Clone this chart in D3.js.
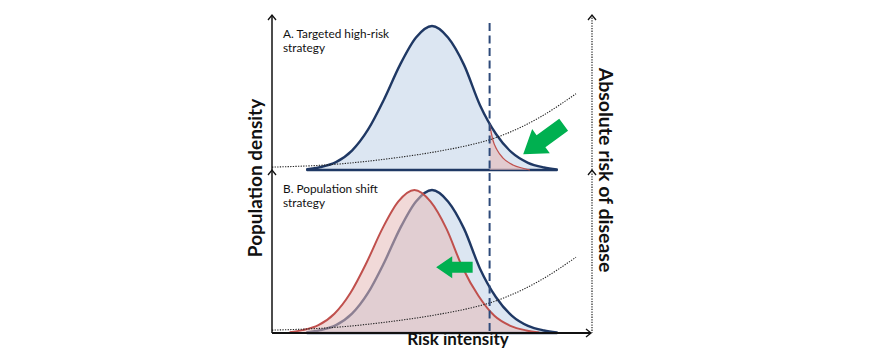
<!DOCTYPE html>
<html>
<head>
<meta charset="utf-8">
<script src="https://cdn.jsdelivr.net/npm/d3@7"></script>
<style>
  html, body { margin: 0; padding: 0; background: #fff; }
  svg { display: block; }
  text { font-family: Lato, "Open Sans", sans-serif; fill: #111; }
</style>
</head>
<body>
<svg id="chart" width="883" height="350"></svg>
<script>
// Risk intensity positions (0–100) and the population distribution before intervention
const popX      = [11, 15, 20, 25, 30, 35, 40, 45, 50, 55, 60, 65, 70, 75, 80, 85, 89];
const popBefore = [0.005, 0.02, 0.055, 0.135, 0.28, 0.49, 0.73, 0.92, 1.0, 0.92, 0.73, 0.45, 0.25, 0.12, 0.05, 0.018, 0.004];

// Panel A: high-risk tail after targeted treatment
const tailX = [68, 69, 70.3, 72.2, 75.3, 78.4, 80.6];
const tailY = [0.32, 0.21, 0.14, 0.083, 0.035, 0.012, 0];

// Panel B: whole distribution shifted to lower risk
const shiftX = [5.5, 9.5, 14.5, 19.5, 24.5, 29.5, 34.5, 39.5, 44.5, 49.5, 54.5, 59.5, 64.5, 69.5, 74.5, 79.5, 83.5];
const shiftY = [0.005, 0.02, 0.055, 0.135, 0.28, 0.49, 0.73, 0.92, 1.0, 0.92, 0.73, 0.46, 0.26, 0.12, 0.05, 0.018, 0.004];

// Absolute risk of disease by risk intensity
const riskX = [0, 20, 37, 52, 63, 68, 73, 84, 95];
const absRisk = [0.02, 0.04, 0.08, 0.13, 0.18, 0.21, 0.25, 0.37, 0.53];

// High-risk cut-off
const threshold = 68;

const panelLabels = [["A. Targeted high-risk", "strategy"], ["B. Population shift", "strategy"]];
const axisTitles = { left: "Population density", right: "Absolute risk of disease", bottom: "Risk intensity" };

const NAVY = "#1f3864", BLUE_FILL = "#dce6f2", RED = "#c0504d", RED_FILL = "#e6b9b8", GREEN = "#00b050";

const svg = d3.select("#chart");
const x = d3.scaleLinear().domain([0, 100]).range([272, 592]);
const yTop = d3.scaleLinear().domain([0, 1]).range([170, 26]);
const yBot = d3.scaleLinear().domain([0, 1]).range([333, 190]);

const zip = (xs, ys) => xs.map((v, i) => [v, ys[i]]);

function shapes(y) {
  const area = d3.area().x(d => x(d[0])).y0(y(0)).y1(d => y(d[1])).curve(d3.curveMonotoneX);
  const line = d3.line().x(d => x(d[0])).y(d => y(d[1])).curve(d3.curveMonotoneX);
  return { area, line };
}

function riskCurve(g, y) {
  g.append("path").datum(zip(riskX, absRisk))
    .attr("d", shapes(y).line)
    .attr("fill", "none").attr("stroke", "#222").attr("stroke-width", 1.1).attr("stroke-dasharray", "1.3,1.3");
}

// ---------- Panel A ----------
const gA = svg.append("g");
const A = shapes(yTop);
gA.append("path").datum(zip(popX, popBefore))
  .attr("d", A.area)
  .attr("fill", BLUE_FILL).attr("stroke", NAVY).attr("stroke-width", 2.4).attr("stroke-linejoin", "round");
gA.append("path").datum(zip(tailX, tailY))
  .attr("d", A.area).attr("fill", RED_FILL).attr("fill-opacity", 0.6);
gA.append("path").datum(zip(tailX, tailY))
  .attr("d", A.line).attr("fill", "none").attr("stroke", RED).attr("stroke-width", 1.2);
riskCurve(gA, yTop);

// ---------- Panel B ----------
const gB = svg.append("g");
const B = shapes(yBot);
gB.append("path").datum(zip(popX, popBefore))
  .attr("d", B.area)
  .attr("fill", BLUE_FILL).attr("stroke", NAVY).attr("stroke-width", 2.4).attr("stroke-linejoin", "round");
gB.append("path").datum(zip(shiftX, shiftY))
  .attr("d", B.area).attr("fill", RED_FILL).attr("fill-opacity", 0.55);
gB.append("path").datum(zip(shiftX, shiftY))
  .attr("d", B.line).attr("fill", "none").attr("stroke", RED).attr("stroke-width", 2);
riskCurve(gB, yBot);

// ---------- Threshold ----------
svg.append("line")
  .attr("x1", x(threshold)).attr("x2", x(threshold))
  .attr("y1", 23).attr("y2", yBot(0))
  .attr("stroke", "#2e4a7a").attr("stroke-width", 2).attr("stroke-dasharray", "8,4.5");

// ---------- Axes ----------
function chevron(px, py, dir) {
  // small open arrow head; dir: "up" or "right"
  const s = 4;
  const pts = dir === "up"
    ? [[px - s, py + s + 1], [px, py], [px + s, py + s + 1]]
    : [[px - s - 1, py - s], [px, py], [px - s - 1, py + s]];
  svg.append("path").attr("d", d3.line()(pts))
    .attr("fill", "none").attr("stroke", "#111").attr("stroke-width", 1.3);
}
const x0 = x(0), xR = x(100);
// left axes
svg.append("line").attr("x1", x0).attr("x2", x0).attr("y1", 15).attr("y2", yBot(0))
  .attr("stroke", "#111").attr("stroke-width", 1.5);
chevron(x0, 15, "up"); chevron(x0, yTop(0), "up");
// right dotted axes
svg.append("line").attr("x1", xR).attr("x2", xR).attr("y1", 15).attr("y2", yBot(0))
  .attr("stroke", "#222").attr("stroke-width", 1.2).attr("stroke-dasharray", "1.3,1.3");
chevron(xR, 15, "up"); chevron(xR, yTop(0), "up");
// bottom axis
svg.append("line").attr("x1", x0).attr("x2", xR - 1).attr("y1", yBot(0)).attr("y2", yBot(0))
  .attr("stroke", "#111").attr("stroke-width", 1.8);
chevron(xR - 1, yBot(0), "right");

// ---------- Green arrows ----------
const arrowPts = [[0, 0], [22, -15], [22, -7.5], [50, -7.5], [50, 7.5], [22, 7.5], [22, 15]];
svg.append("polygon").attr("points", arrowPts.join(" "))
  .attr("fill", GREEN)
  .attr("transform", `translate(${x(78.5)},${yTop(0.11)}) rotate(-36)`);
svg.append("polygon").attr("points", arrowPts.join(" "))
  .attr("fill", GREEN)
  .attr("transform", `translate(${x(51.3)},${yBot(0.46)}) scale(0.73)`);

// ---------- Text ----------
const labelPos = [[283, 38], [283, 193]];
panelLabels.forEach((lines, i) => {
  const t = svg.append("text").attr("x", labelPos[i][0]).attr("y", labelPos[i][1])
    .attr("font-size", 11.8);
  lines.forEach((s, j) => t.append("tspan").attr("x", labelPos[i][0]).attr("dy", j ? 14 : 0).text(s));
});

svg.append("text")
  .attr("transform", `translate(262,178) rotate(-90)`)
  .attr("text-anchor", "middle").attr("font-size", 19).attr("font-weight", 700)
  .text(axisTitles.left);
svg.append("text")
  .attr("transform", `translate(599,170) rotate(90)`)
  .attr("text-anchor", "middle").attr("font-size", 19.5).attr("font-weight", 700)
  .text(axisTitles.right);
svg.append("text")
  .attr("x", 458).attr("y", 345)
  .attr("text-anchor", "middle").attr("font-size", 17).attr("font-weight", 700)
  .text(axisTitles.bottom);
</script>
</body>
</html>
